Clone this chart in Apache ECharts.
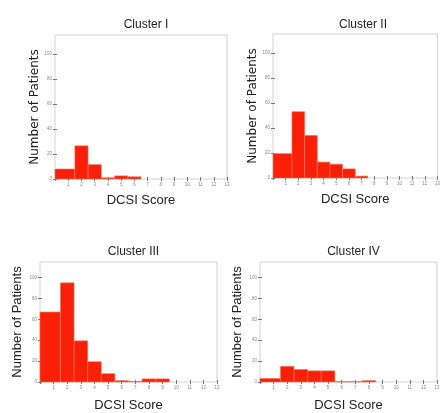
<!DOCTYPE html>
<html>
<head>
<meta charset="utf-8">
<script src="https://cdn.jsdelivr.net/npm/echarts@6/dist/echarts.min.js"></script>
<style>
  html, body { margin: 0; padding: 0; background: #fff; }
  #container { width: 443px; height: 413px; }
</style>
</head>
<body>
<div id="container"></div>
<script>
// bin edges of the DCSI score histogram (first bin spans 0..1.5)
var binEdges = [0, 1.5, 2.5, 3.5, 4.5, 5.5, 6.5, 7.5, 8.5, 9.5, 10.5, 11.5, 12.5, 13];
var xTicks = [1, 2, 3, 4, 5, 6, 7, 8, 9, 10, 11, 12, 13];
var yTicks = [0, 20, 40, 60, 80, 100];
var clusterNames = ['Cluster I', 'Cluster II', 'Cluster III', 'Cluster IV'];

var cluster1 = [8, 26.5, 11.5, 1, 2.5, 1.8, 0, 0, 0, 0, 0, 0, 0];
var cluster2 = [19.5, 53, 34, 12.7, 11, 7.3, 1.5, 0, 0, 0, 0, 0, 0];
var cluster3 = [67, 95, 39.5, 19.5, 8, 1.3, 0.6, 3, 3, 0, 0, 0, 0];
var cluster4 = [3.4, 15, 12, 10.7, 10.7, 0.4, 0.4, 1.3, 0, 0, 0, 0, 0];

var dom = document.getElementById("container");
var myChart = echarts.init(dom);

// panel boxes in pixels
var grids = [
    {left: 55, top: 35, width: 172, height: 144},
    {left: 273, top: 34, width: 170, height: 144},
    {left: 40, top: 262, width: 177, height: 123},
    {left: 260, top: 262, width: 177, height: 123}
];
var yNameGap = [12, 12, 16, 16];
// top row labels are drawn wider in the original
var yNameFont = [
    {fontSize: 12, fontFamily: 'DejaVu Sans'},
    {fontSize: 12, fontFamily: 'DejaVu Sans'},
    {fontSize: 13, fontFamily: 'Liberation Sans'},
    {fontSize: 13, fontFamily: 'Liberation Sans'}
];
var allCounts = [cluster1, cluster2, cluster3, cluster4];

function rows(counts) {
    var out = [];
    for (var i = 0; i < counts.length; i++) {
        if (counts[i] > 0) out.push([binEdges[i], binEdges[i + 1], counts[i]]);
    }
    return out;
}

function renderBar(params, api) {
    var p0 = api.coord([api.value(0), api.value(2)]);
    var p1 = api.coord([api.value(1), 0]);
    return {
        type: 'rect',
        shape: {x: p0[0], y: p0[1], width: p1[0] - p0[0], height: p1[1] - p0[1]},
        style: {fill: '#fa2008', stroke: '#f2775f', lineWidth: 0.6}
    };
}

var tickLabel = {fontSize: 4.5, color: '#888', margin: 3, fontFamily: 'Liberation Sans'};
var option = {
    animation: false,
    title: [],
    grid: [],
    xAxis: [],
    yAxis: [],
    series: []
};

for (var k = 0; k < 4; k++) {
    var g = grids[k];
    option.grid.push({left: g.left, top: g.top, width: g.width, height: g.height,
        show: true, borderColor: '#c8c8c8', borderWidth: 0.8});
    option.title.push({
        text: clusterNames[k],
        left: g.left + g.width / 2, top: k < 2 ? 14 : 241,
        textAlign: 'center',
        textStyle: {fontSize: 12, fontWeight: 'normal', color: '#222', fontFamily: 'Liberation Sans'}
    });
    // bottom / left axes with labels
    option.xAxis.push({
        type: 'value', gridIndex: k, min: 0, max: 13, interval: 1,
        name: 'DCSI Score', nameLocation: 'middle', nameGap: k < 2 ? 15 : 17,
        nameTextStyle: {fontSize: 13, color: '#222', fontFamily: 'Liberation Sans'},
        axisLine: {show: false},
        axisTick: {inside: true, length: 2, lineStyle: {color: '#777'}},
        axisLabel: Object.assign({}, tickLabel, {
            formatter: function (v) { return v === 0 ? '' : v; }
        }),
        splitLine: {show: false}
    });
    option.yAxis.push({
        type: 'value', gridIndex: k, min: 0, max: 115,
        name: 'Number of Patients', nameLocation: 'middle', nameGap: yNameGap[k],
        nameTextStyle: Object.assign({color: '#222'}, yNameFont[k]),
        axisLine: {show: false},
        axisTick: {inside: true, length: 2, lineStyle: {color: '#777'},
            customValues: yTicks},
        axisLabel: Object.assign({}, tickLabel, {customValues: yTicks}),
        splitLine: {show: false}
    });
    // top / right axes: ticks only (box style)
    option.xAxis.push({
        type: 'value', gridIndex: k, min: 0, max: 13, interval: 1, position: 'top',
        axisLine: {show: false},
        axisTick: {inside: true, length: 2, lineStyle: {color: '#777'}},
        axisLabel: {show: false}, splitLine: {show: false}
    });
    option.yAxis.push({
        type: 'value', gridIndex: k, min: 0, max: 115, position: 'right',
        axisLine: {show: false},
        axisTick: {inside: true, length: 2, lineStyle: {color: '#777'}, customValues: yTicks},
        axisLabel: {show: false}, splitLine: {show: false}
    });
    option.series.push({
        type: 'custom', name: clusterNames[k],
        xAxisIndex: 2 * k, yAxisIndex: 2 * k,
        renderItem: renderBar,
        encode: {x: [0, 1], y: 2},
        data: rows(allCounts[k])
    });
}

if (option && typeof option === "object") {
    myChart.setOption(option, true);
}
</script>
</body>
</html>
